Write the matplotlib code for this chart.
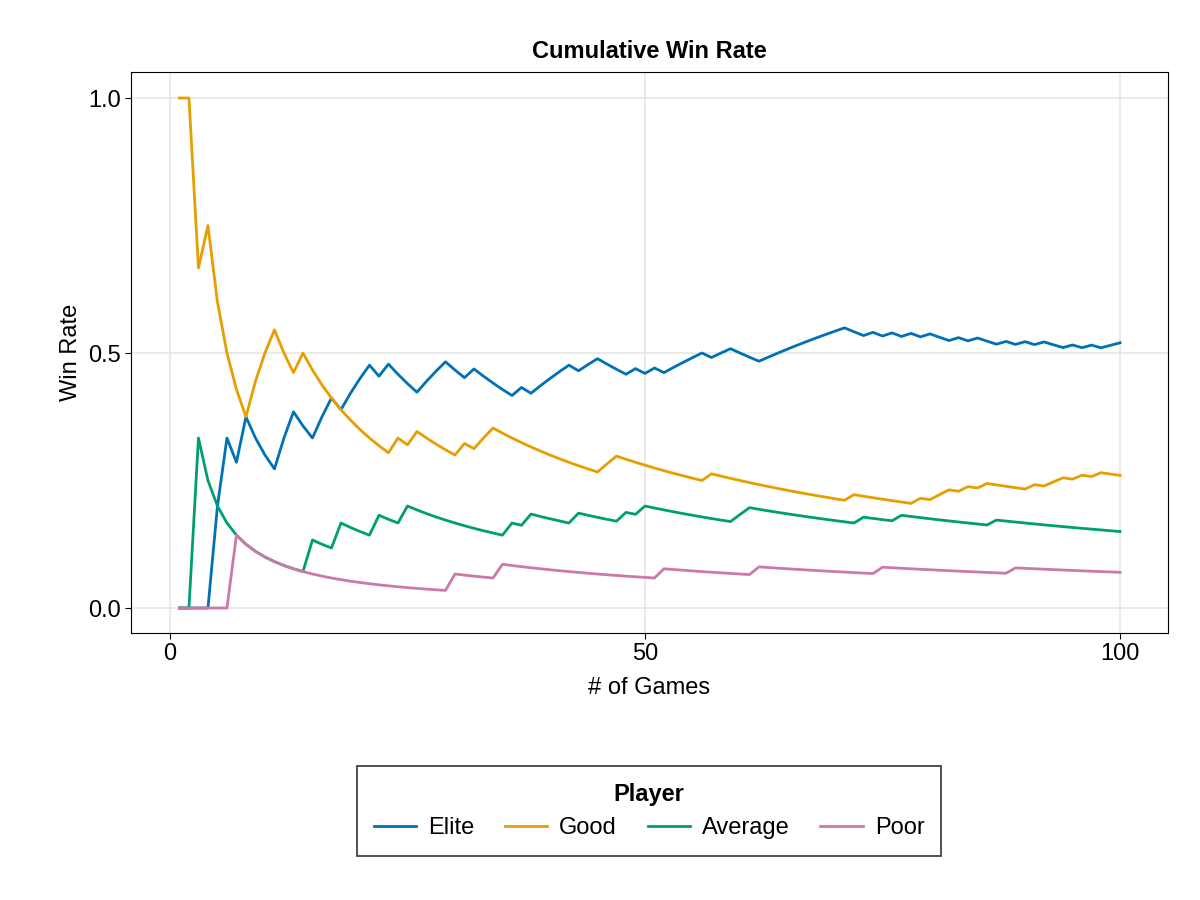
import numpy as np
import matplotlib
matplotlib.use("Agg")
import matplotlib.pyplot as plt

plt.rcParams['font.family'] = ['Liberation Sans', 'DejaVu Sans']

n_games = 100
players = ["Elite", "Good", "Average", "Poor"]
colors = ["#0072B2", "#E69F00", "#009E73", "#CC79A7"]
# games won by each player
elite_wins = [5, 6, 8, 12, 13, 16, 17, 19, 20, 21, 23, 27, 28, 29, 32, 37,
              39, 40, 41, 42, 44, 45, 49, 51, 53, 54, 55, 56, 58, 59,
              63, 64, 65, 66, 67, 68, 69, 70, 71, 74, 76, 78, 80, 83, 85,
              88, 90, 92, 95, 97, 99, 100]
good_wins = [1, 2, 4, 9, 10, 11, 14, 24, 26, 31, 33, 34, 46, 47, 57, 72,
             79, 81, 82, 84, 86, 91, 93, 94, 96, 98]
average_wins = [3, 15, 18, 22, 25, 36, 38, 43, 48, 50, 60, 61, 73, 77, 87]
poor_wins = [7, 30, 35, 52, 62, 75, 89]
all_wins = [elite_wins, good_wins, average_wins, poor_wins]

games = np.arange(1, n_games + 1)

fig = plt.figure(figsize=(12, 9), dpi=100)
ax = fig.add_axes([131/1200, 1 - 633/900, (1168-131)/1200, (633-72)/900])
for name, wins, c in zip(players, all_wins, colors):
    outcome = np.isin(games, wins).astype(float)
    rate = np.cumsum(outcome) / games
    ax.plot(games, rate, color=c, lw=2, label=name)

ax.set_xlim(-4.1, 105.05)
ax.set_ylim(-0.049, 1.051)
ax.set_xticks([0, 50, 100])
ax.set_yticks([0.0, 0.5, 1.0])
ax.set_yticklabels(["0.0", "0.5", "1.0"])
ax.grid(True, color="#e6e6e6", lw=1.2)
ax.set_axisbelow(True)
ax.tick_params(labelsize=17, length=4)
ax.set_xlabel("# of Games", fontsize=17, labelpad=8)
ax.set_ylabel("Win Rate", fontsize=17, labelpad=4)
ax.set_title("Cumulative Win Rate", fontsize=17, fontweight="bold", pad=10)

leg = fig.legend(loc="center", bbox_to_anchor=(649/1200, 1 - 811/900), ncol=4,
                 title="Player", fontsize=17, title_fontproperties={"weight": "bold", "size": 17},
                 frameon=True, fancybox=False, edgecolor="black", handlelength=1.8,
                 columnspacing=1.3, borderpad=0.7, handletextpad=0.5)
leg.get_frame().set_linewidth(1.2)
fig.savefig("out.png", dpi=100)
